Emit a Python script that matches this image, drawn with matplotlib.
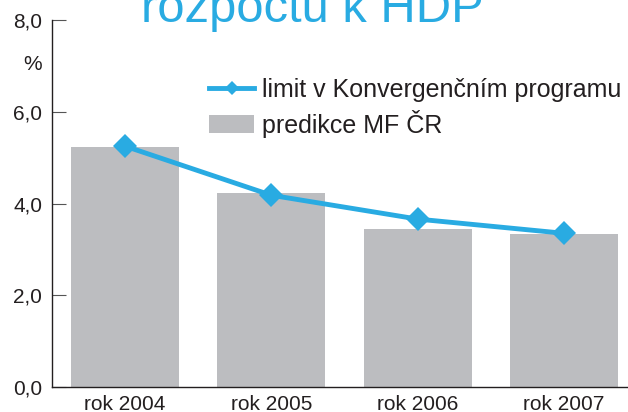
import matplotlib
matplotlib.use("Agg")
import matplotlib.pyplot as plt
from matplotlib.lines import Line2D
from matplotlib.patches import Patch

# === Daten ===
years = ["rok 2004", "rok 2005", "rok 2006", "rok 2007"]
predikce_mf = [5.23, 4.23, 3.44, 3.34]
limit_kp = [5.25, 4.18, 3.66, 3.35]
yticks = [0, 2, 4, 6, 8]
ytick_labels = ["0,0", "2,0", "4,0", "6,0", "8,0"]

blue = "#29abe2"
grey = "#bcbdc0"
dark = "#231f20"

plt.rcParams["font.family"] = ["Liberation Sans", "DejaVu Sans"]

fig = plt.figure(figsize=(6.28, 4.12), dpi=100)
ax = fig.add_axes([52 / 628, 1 - 387 / 412, 1 - 52 / 628, (387 - 20) / 412])

x = list(range(len(years)))
ax.bar(x, predikce_mf, width=0.738, color=grey, zorder=1)
ax.plot(x, limit_kp, color=blue, lw=3.5, marker="D", markersize=12.5,
        markeredgewidth=0, zorder=3, clip_on=False)

ax.set_xlim(-0.499, 3.437)
ax.set_ylim(0, 8)
ax.set_yticks(yticks)
ax.set_yticklabels(ytick_labels)
ax.set_xticks(x)
ax.set_xticklabels(years)

for s in ["top", "right"]:
    ax.spines[s].set_visible(False)
for s in ["left", "bottom"]:
    ax.spines[s].set_color(dark)
    ax.spines[s].set_linewidth(1.0)

ax.tick_params(axis="y", direction="in", length=10, width=0.8, color="#555555",
               labelsize=15, pad=7, labelcolor=dark)
ax.tick_params(axis="x", length=0, labelsize=15, pad=6, labelcolor=dark)

# Titel (oben abgeschnitten)
fig.text(0.497, 1 - 22 / 412, "rozpočtu k HDP", color=blue, fontsize=35.3,
         ha="center", va="baseline")
fig.text(33 / 628, 1 - 65 / 412, "%", fontsize=15, color=dark,
         ha="center", va="center")

# Legende
handles = [
    Line2D([0], [0], color=blue, lw=3.5, marker="D", markersize=7.5, markeredgewidth=0),
    Patch(facecolor=grey, edgecolor="none"),
]
labels = ["limit v Konvergenčním programu", "predikce MF ČR"]
fig.legend(handles, labels, loc="upper left",
           bbox_to_anchor=(209 / 628, 1 - 78 / 412), frameon=False,
           fontsize=18, handlelength=1.8, handletextpad=0.32,
           labelspacing=0.3, borderpad=0, borderaxespad=0,
           labelcolor=dark)

fig.savefig("out.png", dpi=100)
